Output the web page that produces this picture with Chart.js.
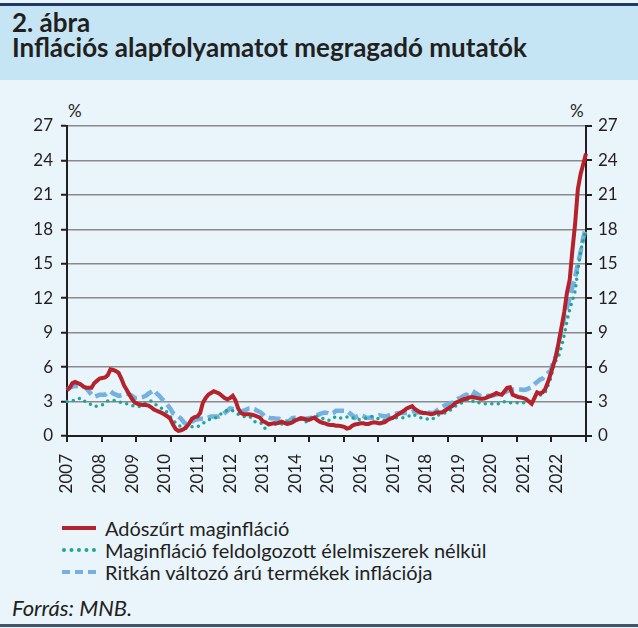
<!DOCTYPE html>
<html>
<head>
<meta charset="utf-8">
<script src="https://cdn.jsdelivr.net/npm/chart.js@4/dist/chart.umd.min.js"></script>
<style>
  body { margin: 0; width: 638px; height: 628px; background: #fff; font-family: Lato, "Liberation Sans", sans-serif; color: #231f20; overflow: hidden; }
  #doboz { position: absolute; left: 0; top: 0; width: 638px; height: 628px; background: #e9f4fb; }
  #csik { position: absolute; left: 0; top: 3px; width: 638px; height: 3px; background: #1f3a68; }
  #fejlec { position: absolute; left: 0; top: 6px; width: 638px; height: 74px; background: #c6e5f4; }
  #fejlec div { position: absolute; left: 12px; font-size: 26px; font-weight: bold; line-height: 30px; white-space: nowrap; }
  #fejlec .sor1 { top: 1px; }
  #fejlec .sor2 { top: 26px; }
  .szazalek { position: absolute; top: 100px; font-size: 17px; }
  #grafikon { position: absolute; left: 0; top: 97px; width: 638px; height: 410px; }
  #jelmagyarazat { position: absolute; left: 62px; top: 517px; font-size: 20px; }
  .tetel { height: 22px; line-height: 22px; display: flex; align-items: center; }
  .minta { width: 34px; height: 0; margin-right: 9px; }
  #forras { position: absolute; left: 12px; top: 594px; font-size: 22px; font-style: italic; }
  #also { position: absolute; left: 0; top: 624px; width: 638px; height: 3px; background: #44546a; }
</style>
</head>
<body>
<div id="doboz"></div>
<div id="csik"></div>
<div id="fejlec">
  <div class="sor1">2. ábra</div>
  <div class="sor2">Inflációs alapfolyamatot megragadó mutatók</div>
</div>
<div class="szazalek" style="left:68px">%</div>
<div class="szazalek" style="left:570px">%</div>
<canvas id="grafikon" width="638" height="410"></canvas>
<div id="jelmagyarazat">
  <div class="tetel"><span class="minta" style="border-top:4px solid #b5222b"></span>Adószűrt maginfláció</div>
  <div class="tetel"><span class="minta" style="border-top:4px dotted #1fa597"></span>Maginfláció feldolgozott élelmiszerek nélkül</div>
  <div class="tetel"><span class="minta" style="border-top:4px dashed #74b1e0"></span>Ritkán változó árú termékek inflációja</div>
</div>
<div id="forras">Forrás: MNB.</div>
<div id="also"></div>
<script>
const EVEK = ["2007","2008","2009","2010","2011","2012","2013","2014","2015","2016","2017","2018","2019","2020","2021","2022"];
const Y_TICKS = [0, 3, 6, 9, 12, 15, 18, 21, 24, 27];

// havi adatok, 2007 jan - 2022 dec (évenként 12 érték)
const ADOSZURT = [
  4.0, 4.2, 4.6, 4.7, 4.6, 4.5, 4.3, 4.2, 4.2, 4.2, 4.6, 4.8,
  5.0, 5.05, 5.1, 5.3, 5.8, 5.75, 5.65, 5.5, 5.0, 4.4, 4.0, 3.6,
  3.2, 2.9, 2.8, 2.75, 2.7, 2.7, 2.65, 2.5, 2.3, 2.2, 2.1, 2.0,
  1.85, 1.7, 1.5, 1.0, 0.6, 0.45, 0.5, 0.6, 0.8, 1.1, 1.5, 1.65,
  1.7, 2.0, 2.9, 3.3, 3.6, 3.75, 3.9, 3.8, 3.7, 3.5, 3.3, 3.2,
  3.3, 3.5, 3.1, 2.4, 2.0, 1.9, 1.9, 1.9, 1.85, 1.8, 1.7, 1.6,
  1.3, 1.2, 1.05, 1.05, 1.1, 1.1, 1.15, 1.25, 1.15, 1.05, 1.1, 1.2,
  1.35, 1.45, 1.55, 1.5, 1.45, 1.4, 1.5, 1.6, 1.4, 1.25, 1.15, 1.1,
  1.0, 0.95, 0.95, 0.9, 0.9, 0.85, 0.8, 0.65, 0.7, 0.9, 1.0, 1.05,
  1.1, 1.1, 1.05, 1.05, 1.15, 1.2, 1.15, 1.1, 1.15, 1.2, 1.4, 1.5,
  1.6, 1.75, 1.9, 2.05, 2.2, 2.4, 2.5, 2.6, 2.35, 2.2, 2.05, 2.0,
  2.0, 1.95, 1.9, 1.95, 2.05, 2.05, 2.05, 2.2, 2.35, 2.5, 2.65, 2.9,
  3.0, 3.1, 3.2, 3.25, 3.35, 3.4, 3.35, 3.3, 3.25, 3.25, 3.3, 3.4,
  3.5, 3.6, 3.75, 3.65, 3.6, 3.9, 4.2, 4.25, 3.6, 3.5, 3.4, 3.35,
  3.3, 3.2, 3.0, 2.8, 3.3, 3.8, 3.7, 3.8, 4.1, 4.7, 5.4, 6.2,
  7.0, 8.2, 9.5, 10.8, 12.5, 13.6, 16.2, 18.5, 21.5, 22.8, 23.7, 24.6
];
const FELDOLGOZOTT_NELKUL = [
  3.0, 3.1, 3.1, 3.1, 3.2, 3.3, 3.1, 2.95, 2.85, 2.7, 2.55, 2.6,
  2.65, 2.7, 2.9, 3.05, 3.1, 3.1, 3.05, 3.0, 2.9, 2.85, 2.8, 2.7,
  2.65, 2.6, 2.55, 2.6, 2.75, 2.9, 3.0, 3.05, 2.9, 2.65, 2.5, 2.4,
  2.3, 2.0, 1.7, 1.4, 1.15, 0.95, 0.8, 0.7, 0.65, 0.7, 0.8, 0.8,
  0.8, 0.95, 1.1, 1.25, 1.4, 1.5, 1.55, 1.6, 1.8, 2.0, 2.1, 2.25,
  2.25, 2.2, 2.0, 1.9, 1.8, 1.7, 1.7, 1.7, 1.55, 1.25, 1.2, 1.2,
  1.0, 0.6, 0.95, 0.95, 1.0, 1.05, 1.05, 1.05, 1.1, 1.2, 1.35, 1.4,
  1.5, 1.5, 1.45, 1.35, 1.25, 1.4, 1.6, 1.8, 1.7, 1.6, 1.55, 1.45,
  1.35, 1.4, 1.55, 1.7, 1.65, 1.55, 1.6, 1.65, 1.7, 1.6, 1.5, 1.4,
  1.45, 1.5, 1.55, 1.6, 1.7, 1.65, 1.55, 1.5, 1.4, 1.35, 1.45, 1.6,
  1.6, 1.6, 1.6, 1.6, 1.6, 1.65, 1.75, 1.9, 1.8, 1.7, 1.6, 1.55,
  1.5, 1.45, 1.4, 1.55, 1.75, 1.85, 1.95, 2.0, 2.1, 2.25, 2.4, 2.6,
  2.7, 2.85, 3.0, 3.1, 3.2, 3.1, 2.9, 2.9, 2.9, 2.85, 2.8, 2.8,
  2.8, 2.8, 2.8, 2.8, 2.85, 3.0, 2.95, 2.9, 2.9, 2.9, 2.9, 2.9,
  2.9, 2.95, 3.0, 3.0, 3.3, 3.45, 3.55, 3.6, 3.8, 4.4, 5.0, 6.0,
  6.6, 7.0, 7.8, 8.8, 10.0, 11.0, 11.8, 12.6, 14.5, 16.0, 17.2, 17.9
];
const RITKAN_VALTOZO = [
  4.0, 4.2, 4.3, 4.35, 4.35, 4.35, 4.3, 4.2, 3.9, 3.6, 3.4, 3.5,
  3.6, 3.6, 3.6, 3.8, 3.9, 3.7, 3.6, 3.5, 3.55, 3.6, 3.7, 3.6,
  3.5, 3.3, 3.3, 3.35, 3.4, 3.5, 3.7, 3.85, 4.0, 3.7, 3.5, 3.2,
  3.0, 2.7, 2.4, 2.0, 1.85, 1.7, 1.5, 1.2, 1.0, 1.15, 1.25, 1.4,
  1.45, 1.5, 1.5, 1.5, 1.6, 1.7, 1.7, 1.7, 1.7, 1.8, 2.0, 2.2,
  2.4, 2.35, 2.3, 2.2, 2.1, 2.2, 2.3, 2.4, 2.4, 2.35, 2.2, 2.1,
  1.9, 1.65, 1.6, 1.55, 1.55, 1.5, 1.5, 1.45, 1.3, 1.25, 1.35, 1.55,
  1.6, 1.6, 1.5, 1.5, 1.5, 1.55, 1.6, 1.7, 1.8, 1.9, 2.0, 2.05,
  2.0, 1.9, 2.0, 2.2, 2.2, 2.2, 2.2, 2.2, 2.0, 1.8, 1.6, 1.75,
  1.85, 1.75, 1.6, 1.6, 1.6, 1.6, 1.7, 1.8, 1.75, 1.7, 1.75, 1.85,
  1.9, 1.95, 2.0, 2.0, 2.0, 2.0, 2.0, 2.1, 2.2, 2.05, 2.05, 2.1,
  2.1, 2.05, 2.0, 2.0, 2.2, 2.35, 2.5, 2.65, 2.75, 2.85, 2.9, 3.0,
  3.25, 3.35, 3.5, 3.6, 3.5, 3.4, 3.8, 3.65, 3.5, 3.45, 3.45, 3.5,
  3.5, 3.55, 3.6, 3.65, 3.75, 3.8, 3.9, 4.05, 4.05, 4.05, 4.05, 4.05,
  4.0, 4.05, 4.15, 4.25, 4.5, 4.7, 4.9, 5.0, 5.3, 5.5, 5.7, 6.5,
  7.0, 8.2, 9.2, 10.3, 11.2, 12.0, 13.0, 13.8, 15.0, 16.0, 17.3, 18.2
];

const HONAPOK = [];
EVEK.forEach(ev => { for (let h = 1; h <= 12; h++) HONAPOK.push(ev + "-" + String(h).padStart(2, "0")); });

const SOTET = "#231f20";
const BETU = { family: "Lato, 'Liberation Sans', sans-serif", size: 17 };

// az x tengely osztásjelei (15 egyenlő köz), a skála saját pixelszámításával
const osztasjelek = {
  id: "osztasjelek",
  afterDraw(chart) {
    const x = chart.scales.x, ctx = chart.ctx;
    const alja = chart.chartArea.bottom;
    const utolso = HONAPOK.length - 1;
    ctx.save();
    ctx.strokeStyle = SOTET;
    ctx.lineWidth = 2;
    for (let j = 0; j <= 15; j++) {
      const px = Math.round(x.getPixelForValue(utolso * j / 15));
      ctx.beginPath();
      ctx.moveTo(px, alja);
      ctx.lineTo(px, alja + 6);
      ctx.stroke();
    }
    ctx.restore();
  }
};

new Chart(document.getElementById("grafikon"), {
  type: "line",
  data: {
    labels: HONAPOK,
    datasets: [
      {
        label: "Adószűrt maginfláció",
        data: ADOSZURT,
        borderColor: "#b5222b",
        borderWidth: 4,
        pointRadius: 0,
        tension: 0
      },
      {
        label: "Maginfláció feldolgozott élelmiszerek nélkül",
        data: FELDOLGOZOTT_NELKUL,
        borderColor: "#1fa597",
        borderWidth: 3.5,
        borderDash: [0, 6.5],
        borderCapStyle: "round",
        pointRadius: 0,
        tension: 0
      },
      {
        label: "Ritkán változó árú termékek inflációja",
        data: RITKAN_VALTOZO,
        borderColor: "#74b1e0",
        borderWidth: 4.5,
        borderDash: [12, 5],
        pointRadius: 0,
        tension: 0
      }
    ]
  },
  options: {
    responsive: false,
    animation: false,
    layout: { padding: { top: 29 } },
    plugins: { legend: { display: false }, tooltip: { enabled: false } },
    scales: {
      x: {
        grid: { display: false },
        border: { display: true, color: SOTET, width: 2 },
        ticks: {
          autoSkip: false,
          minRotation: 90,
          maxRotation: 90,
          padding: 10,
          color: SOTET,
          font: BETU,
          callback: (v, i) => (i % 12 === 0 ? EVEK[i / 12] : "")
        },
        afterFit: s => { s.height = 71; }
      },
      y: {
        position: "left",
        min: 0,
        max: 27,
        afterBuildTicks: s => { s.ticks = Y_TICKS.map(v => ({ value: v })); },
        grid: {
          color: "#8a8a8a",
          lineWidth: 1.5,
          borderDash: [2, 4],
          drawTicks: true,
          tickLength: 6,
          tickColor: SOTET,
          tickWidth: 2
        },
        border: { display: true, color: SOTET, width: 2 },
        ticks: { padding: 8, color: SOTET, font: BETU },
        afterFit: s => { s.width = 67; }
      },
      y2: {
        position: "right",
        min: 0,
        max: 27,
        afterBuildTicks: s => { s.ticks = Y_TICKS.map(v => ({ value: v })); },
        grid: {
          drawOnChartArea: false,
          drawTicks: true,
          tickLength: 6,
          color: SOTET,
          lineWidth: 2
        },
        border: { display: true, color: SOTET, width: 2 },
        ticks: { padding: 6, color: SOTET, font: BETU },
        afterFit: s => { s.width = 52; }
      }
    }
  },
  plugins: [osztasjelek]
});
</script>
</body>
</html>
